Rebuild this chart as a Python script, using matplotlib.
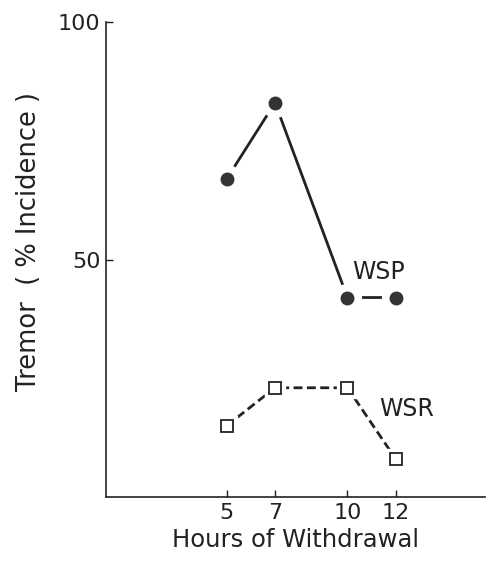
import numpy as np
import matplotlib.pyplot as plt

plt.rcParams['font.family'] = ['DejaVu Sans']

hours = [5, 7, 10, 12]
wsp = [67, 83, 42, 42]
wsr = [15, 23, 23, 8]
tick_hours = [5, 7, 10, 12]
tick_pct = [50, 100]

fig = plt.figure(figsize=(4.87, 5.69), dpi=100)
ax = fig.add_axes([0.2177, 0.1265, 0.7783, 0.8348])

# WSP: solid line, filled circles with a white gap round them
ax.plot(hours, wsp, color='#222222', lw=2, zorder=1)
ax.plot(hours, wsp, ls='none', marker='o', ms=20, mfc='white', mec='white', zorder=2)
ax.plot(hours, wsp, ls='none', marker='o', ms=9, mfc='#333333', mec='#333333', zorder=3)

# WSR: dashed line, open squares
ax.plot(hours, wsr, color='#222222', lw=2, ls=(0, (3.2, 1.6)), zorder=1)
ax.plot(hours, wsr, ls='none', marker='s', ms=14, mfc='white', mec='white', zorder=2)
ax.plot(hours, wsr, ls='none', marker='s', ms=9, mfc='white', mec='#222222', mew=1.3, zorder=3)

ax.text(10.2, 47.3, 'WSP', fontsize=17, va='center', ha='left', color='#222222')
ax.text(11.3, 18.5, 'WSR', fontsize=17, va='center', ha='left', color='#222222')

ax.set_xlim(0, 15.7)
ax.set_ylim(0, 100)
ax.set_xticks(tick_hours)
ax.set_yticks(tick_pct)
ax.tick_params(direction='in', length=5, width=1, labelsize=16, pad=4, colors='#222222')

for s in ['top', 'right']:
    ax.spines[s].set_visible(False)
for s in ['left', 'bottom']:
    ax.spines[s].set_linewidth(1.2)
    ax.spines[s].set_color('#222222')

ax.set_xlabel('Hours of Withdrawal', fontsize=17.5, color='#222222', labelpad=4)
ax.set_ylabel('Tremor  ( % Incidence )', fontsize=18.5, color='#222222')
ax.yaxis.set_label_coords(-0.168, 0.537)

plt.savefig('out.png', dpi=100)
